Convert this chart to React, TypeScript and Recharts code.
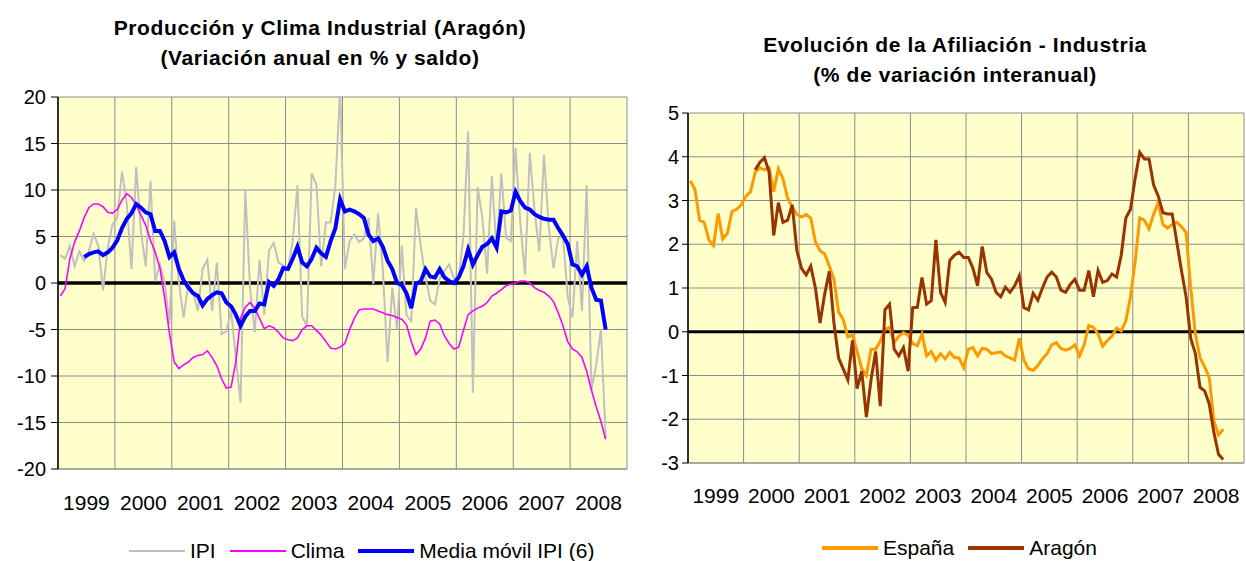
import React from 'react';
import { LineChart, Line, XAxis, YAxis, CartesianGrid, ReferenceLine } from 'recharts';

const FONT = '"Liberation Sans", Arial, sans-serif';

const yearLabels = ['1999', '2000', '2001', '2002', '2003', '2004', '2005', '2006', '2007', '2008'];

// monthly, Jan 1999 -> Aug 2008
const ipi = [
  3.0, 2.6, 4.0, 1.8, 3.4, 2.4, 3.4, 5.3, 4.0, -0.8, 3.8, 6.3,
  7.0, 12.0, 8.5, 1.5, 12.5, 5.5, 1.8, 11.0, 0.2, 2.0, 0.0, -4.4,
  6.7, 0.0, -3.7, -0.1, -1.0, -3.0, 1.5, 2.5, -3.0, 2.2, -5.5, -5.2,
  -3.0, -8.0, -12.9, 9.9, -0.5, -5.3, 2.5, -3.4, 3.5, 4.3, 2.2, 1.9,
  1.5, 4.5, 10.5, -3.6, -4.6, 11.8, 10.6, 1.8, 6.5, 6.5, 10.5, 21.0,
  1.5, 4.5, 5.2, 4.4, 4.8, 7.0, -0.1, 7.5, 1.5, -8.5, -0.5, -5.0,
  4.0, -3.5, -4.1, 8.1, 4.0, 0.6, -1.9, -2.3, 0.5, 1.3, 2.0, 0.5,
  0.6, 5.0, 16.3, -11.8, 10.3, 7.0, 1.0, 11.5, 3.5, 11.8, 4.9, 4.5,
  14.5, 6.5, 0.9, 14.0, 7.8, 3.4, 13.8, 6.0, 1.6, 4.8, 5.0, -1.5,
  -3.7, 4.5, -3.0, 10.5, -11.5, -8.8, -5.0, -16.6,
];

const clima = [
  -1.4, -0.6, 2.6, 4.4, 5.6, 7.0, 8.1, 8.5, 8.5, 8.2, 7.6, 7.5,
  7.9, 8.9, 9.6, 9.2, 8.4, 7.3, 6.2, 4.6, 3.3, 1.6, -1.6, -5.4,
  -8.5, -9.2, -8.8, -8.5, -8.0, -7.8, -7.7, -7.3, -8.0, -8.9, -10.3, -11.3,
  -11.2, -8.5, -3.8, -2.6, -2.1, -2.7, -3.8, -4.9, -4.6, -4.8, -5.3, -5.9,
  -6.1, -6.2, -5.9, -5.0, -4.6, -4.6, -5.1, -5.6, -6.3, -7.0, -7.1, -6.9,
  -6.5, -5.0, -3.8, -2.9, -2.8, -2.8, -2.8, -3.0, -3.2, -3.4, -3.5, -3.7,
  -3.9, -4.5, -6.3, -7.7, -7.1, -5.9, -4.1, -4.0, -4.4, -5.7, -6.5, -7.1,
  -6.9, -5.1, -3.4, -3.0, -2.7, -2.5, -2.1, -1.4, -1.1, -0.7, -0.3, -0.1,
  0.0, 0.2, 0.2, 0.0, -0.5, -0.8, -1.0, -1.4, -2.0, -3.2, -4.6, -6.3,
  -7.1, -7.4, -8.0, -9.5, -11.5, -13.3, -14.9, -16.8,
];

const mediaMovil = [
  null, null, null, null, null, 2.8, 3.1, 3.3, 3.4, 3.0, 3.3, 3.8,
  4.6, 5.9, 6.9, 7.5, 8.5, 8.1, 7.6, 7.4, 5.6, 5.6, 4.5, 2.8,
  3.3, 1.5, 0.3, -0.5, -1.1, -1.4, -2.4, -1.7, -1.3, -1.0, -1.1, -2.1,
  -2.5, -3.4, -4.6, -3.6, -3.0, -3.0, -2.2, -2.3, 0.1, -0.3, 0.4, 1.6,
  1.5, 2.6, 3.9, 2.2, 1.8, 2.6, 3.8, 3.2, 2.8, 4.5, 5.9, 9.0,
  7.7, 7.9, 7.7, 7.4, 7.0, 5.2, 4.5, 4.8, 3.9, 2.4, 1.5, 0.0,
  -0.2, -1.1, -2.7, -0.1, 0.2, 1.5, 0.7, 0.6, 1.5, 0.6, 0.2, 0.0,
  0.6, 1.8, 3.6, 2.0, 3.0, 3.9, 4.2, 4.8, 3.8, 7.7, 7.6, 7.8,
  9.8, 8.8, 8.1, 7.9, 7.4, 7.1, 6.9, 6.8, 6.8, 5.9, 5.1, 4.2,
  2.0, 1.8, 0.9, 1.8, -0.5, -1.8, -1.9, -5.0,
];

const espana = [
  3.45, 3.25, 2.55, 2.5, 2.1, 1.97, 2.7, 2.12, 2.25, 2.75, 2.8, 2.9,
  3.1, 3.2, 3.65, 3.75, 3.7, 3.75, 3.2, 3.73, 3.5, 3.05, 2.85, 2.68,
  2.62, 2.68, 2.6, 2.05, 1.85, 1.78, 1.5, 1.2, 0.45, 0.28, -0.12, -0.08,
  -0.45, -0.85, -1.0, -0.4, -0.4, -0.22, 0.05, 0.1, -0.25, -0.1, -0.02, -0.08,
  -0.27, -0.32, -0.05, -0.55, -0.45, -0.65, -0.5, -0.62, -0.47, -0.59, -0.6, -0.82,
  -0.4, -0.36, -0.55, -0.38, -0.4, -0.5, -0.48, -0.46, -0.55, -0.6, -0.65, -0.15,
  -0.65, -0.85, -0.88, -0.77, -0.62, -0.5, -0.3, -0.25, -0.38, -0.42, -0.38, -0.3,
  -0.55, -0.3, 0.14, 0.1, -0.05, -0.33, -0.2, -0.1, 0.08, 0.02, 0.25, 0.8,
  1.6, 2.6, 2.55, 2.35, 2.69, 2.95, 2.45, 2.37, 2.45, 2.5, 2.4, 2.27,
  1.0, -0.05, -0.59, -0.8, -1.05, -2.04, -2.36, -2.23,
];

const aragon = [
  null, null, null, null, null, null, null, null, null, null, null, null,
  null, null, 3.7, 3.87, 3.98, 3.65, 2.2, 2.95, 2.5, 2.55, 2.9, 1.85,
  1.45, 1.3, 1.5, 1.0, 0.2, 0.86, 1.38, 0.2, -0.6, -0.85, -1.1, -0.2,
  -1.3, -0.9, -1.95, -1.1, -0.45, -1.7, 0.5, 0.63, -0.4, -0.55, -0.36, -0.9,
  0.55, 0.56, 1.24, 0.63, 0.71, 2.1, 0.9, 0.67, 1.63, 1.75, 1.82, 1.7,
  1.7, 1.45, 1.05, 1.95, 1.35, 1.2, 0.9, 0.8, 1.02, 0.9, 1.05, 1.28,
  0.55, 0.5, 0.88, 0.72, 1.0, 1.25, 1.36, 1.25, 0.95, 0.9, 1.08, 1.2,
  0.95, 0.95, 1.4, 0.8, 1.4, 1.13, 1.17, 1.32, 1.25, 1.75, 2.6, 2.8,
  3.5, 4.1, 3.95, 3.95, 3.35, 3.1, 2.72, 2.69, 2.69, 2.05, 1.4, 0.8,
  -0.15, -0.5, -1.27, -1.35, -1.65, -2.3, -2.8, -2.92,
];

const leftTicks = [-20, -15, -10, -5, 0, 5, 10, 15, 20];
const rightTicks = [-3, -2, -1, 0, 1, 2, 3, 4, 5];

// month positions (centre of each month) and year boundaries
const leftData = ipi.map((v, i) => ({ t: i + 0.5, ipi: v, clima: clima[i], media: mediaMovil[i] }));
const rightData = espana.map((v, i) => ({ t: i + 0.5, espana: v, aragon: aragon[i] }));
const yearBounds = [...yearLabels.map((_, k) => k * 12), yearLabels.length * 12];

const BG = '#FFFFCC';
const GRID = '#8c8c8c';

function yearTick(band: number, dy: number) {
  return (props: any) => {
    const { x, y, payload } = props;
    const k = Math.round(payload.value / 12);
    if (k >= yearLabels.length) return <g />;
    return (
      <text x={x + band / 2} y={y + dy} textAnchor="middle" dominantBaseline="central"
        fontSize={21} fontFamily={FONT} fill="#000">
        {yearLabels[k]}
      </text>
    );
  };
}

function LegendItem({ color, width, label }: { color: string; width: number; label: string }) {
  return (
    <div style={{ display: 'flex', alignItems: 'center', marginRight: 14 }}>
      <div style={{ width: 56, height: width, background: color, marginRight: 5 }} />
      <span>{label}</span>
    </div>
  );
}

const titleStyle: React.CSSProperties = {
  position: 'absolute',
  textAlign: 'center',
  fontFamily: FONT,
  fontWeight: 'bold',
  fontSize: 21,
  letterSpacing: 0.6,
  lineHeight: '30px',
  color: '#000',
};

const legendStyle: React.CSSProperties = {
  position: 'absolute',
  display: 'flex',
  alignItems: 'center',
  fontFamily: FONT,
  fontSize: 21,
  color: '#000',
  height: 24,
};

export default function App() {
  return (
    <div style={{ position: 'absolute', left: 0, top: 0, width: 1246, height: 561, background: '#fff' }}>
      <div style={{ ...titleStyle, left: 20, width: 600, top: 13 }}>
        Producción y Clima Industrial (Aragón)<br />(Variación anual en % y saldo)
      </div>
      <div style={{ ...titleStyle, left: 655, width: 600, top: 30 }}>
        Evolución de la Afiliación - Industria<br />(% de variación interanual)
      </div>

      <div style={{ position: 'absolute', left: 0, top: 0 }}>
        <LineChart width={640} height={561} data={leftData} margin={{ top: 97, right: 13, bottom: 52, left: 8 }}>
          <CartesianGrid stroke={GRID} fill={BG} fillOpacity={1} />
          <XAxis type="number" dataKey="t" domain={[0, 120]} ticks={yearBounds} interval={0}
            allowDataOverflow height={40} tickSize={0} tickLine={false}
            axisLine={{ stroke: GRID }} tick={yearTick(56.9, 31)} />
          <YAxis domain={[-20, 20]} ticks={leftTicks} allowDataOverflow width={50} interval={0}
            tickSize={7} tickMargin={5} tickLine={{ stroke: '#000' }} axisLine={{ stroke: '#000', strokeWidth: 1.5 }}
            tick={{ fill: '#000', fontSize: 20, fontFamily: FONT }} />
          <ReferenceLine y={0} stroke="#000" strokeWidth={3.5} />
          <Line dataKey="ipi" stroke="#c0c0c0" strokeWidth={2} dot={false} activeDot={false} isAnimationActive={false} />
          <Line dataKey="clima" stroke="#ff00ff" strokeWidth={1.6} dot={false} activeDot={false} isAnimationActive={false} />
          <Line dataKey="media" stroke="#0000ff" strokeWidth={4} dot={false} activeDot={false} isAnimationActive={false} />
        </LineChart>
      </div>

      <div style={{ position: 'absolute', left: 640, top: 0 }}>
        <LineChart width={606} height={561} data={rightData} margin={{ top: 113, right: 2, bottom: 58, left: 8 }}>
          <CartesianGrid stroke={GRID} fill={BG} fillOpacity={1} />
          <XAxis type="number" dataKey="t" domain={[0, 120]} ticks={yearBounds} interval={0}
            allowDataOverflow height={40} tickSize={0} tickLine={false}
            axisLine={{ stroke: GRID }} tick={yearTick(55.6, 30)} />
          <YAxis domain={[-3, 5]} ticks={rightTicks} allowDataOverflow width={40} interval={0}
            tickSize={6} tickMargin={3} tickLine={{ stroke: '#000' }} axisLine={{ stroke: '#000', strokeWidth: 1.5 }}
            tick={{ fill: '#000', fontSize: 20, fontFamily: FONT }} />
          <ReferenceLine y={0} stroke="#000" strokeWidth={3} />
          <Line dataKey="espana" stroke="#ff9900" strokeWidth={3} dot={false} activeDot={false} isAnimationActive={false} />
          <Line dataKey="aragon" stroke="#993300" strokeWidth={3} dot={false} activeDot={false} isAnimationActive={false} />
        </LineChart>
      </div>

      <div style={{ ...legendStyle, left: 129, top: 539 }}>
        <LegendItem color="#c0c0c0" width={2} label="IPI" />
        <LegendItem color="#ff00ff" width={2} label="Clima" />
        <LegendItem color="#0000ff" width={4} label="Media móvil IPI (6)" />
      </div>
      <div style={{ ...legendStyle, left: 822, top: 536 }}>
        <LegendItem color="#ff9900" width={4} label="España" />
        <LegendItem color="#993300" width={4} label="Aragón" />
      </div>
    </div>
  );
}
